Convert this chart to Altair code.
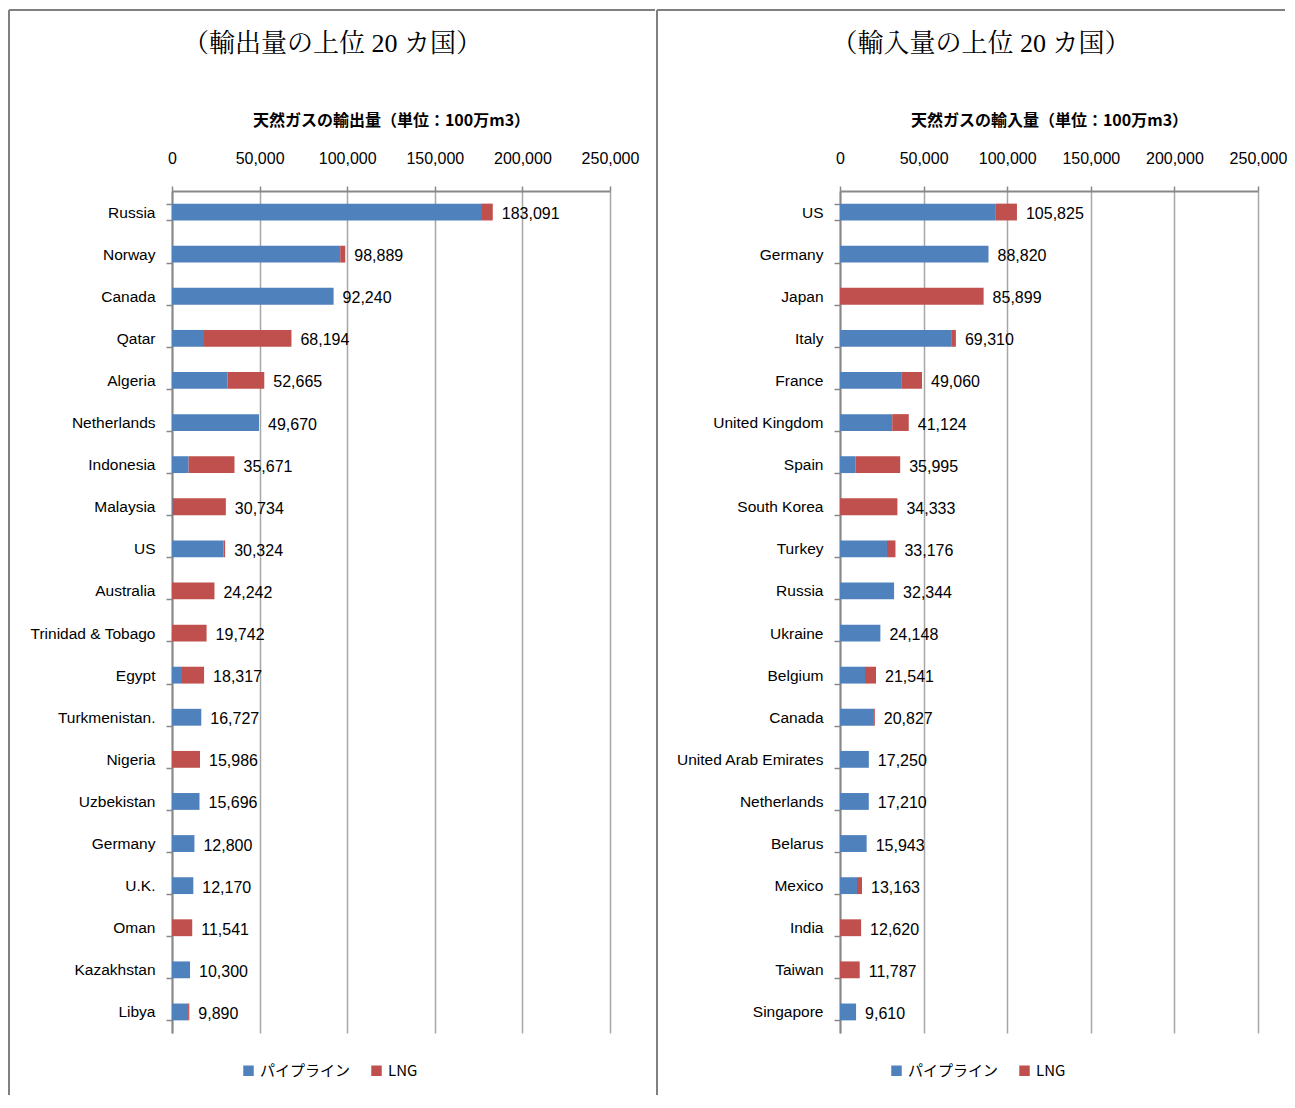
import altair as alt
import pandas as pd

# ---------------- data ----------------
exp_countries = ["Russia", "Norway", "Canada", "Qatar", "Algeria", "Netherlands", "Indonesia",
                 "Malaysia", "US", "Australia", "Trinidad & Tobago", "Egypt", "Turkmenistan.",
                 "Nigeria", "Uzbekistan", "Germany", "U.K.", "Oman", "Kazakhstan", "Libya"]
exp_total = [183091, 98889, 92240, 68194, 52665, 49670, 35671, 30734, 30324, 24242,
             19742, 18317, 16727, 15986, 15696, 12800, 12170, 11541, 10300, 9890]
exp_pipeline = [176400, 96000, 92240, 18250, 31700, 49670, 9470, 400, 29430, 0,
                0, 5700, 16727, 0, 15696, 12800, 12170, 0, 10300, 9200]
exp_lng = [6691, 2889, 0, 49944, 20965, 0, 26201, 30334, 894, 24242,
           19742, 12617, 0, 15986, 0, 0, 0, 11541, 0, 690]

imp_countries = ["US", "Germany", "Japan", "Italy", "France", "United Kingdom", "Spain",
                 "South Korea", "Turkey", "Russia", "Ukraine", "Belgium", "Canada",
                 "United Arab Emirates", "Netherlands", "Belarus", "Mexico", "India",
                 "Taiwan", "Singapore"]
imp_total = [105825, 88820, 85899, 69310, 49060, 41124, 35995, 34333, 33176, 32344,
             24148, 21541, 20827, 17250, 17210, 15943, 13163, 12620, 11787, 9610]
imp_pipeline = [93200, 88820, 0, 66500, 36600, 31250, 9380, 0, 28090, 32344,
                24148, 14940, 20300, 17250, 17210, 15943, 10160, 0, 0, 9610]
imp_lng = [12625, 0, 85899, 2810, 12460, 9874, 26615, 34333, 5086, 0,
           0, 6601, 527, 0, 0, 0, 3003, 12620, 11787, 0]

types = ["パイプライン", "LNG"]
type_colors = ["#4F81BD", "#C0504D"]
x_ticks = [0, 50000, 100000, 150000, 200000, 250000]

LATIN = "Liberation Sans"
CJK = "Noto Sans CJK JP"
SERIF = "Liberation Serif, Noto Serif CJK JP, Noto Sans CJK JP"
BORDER = "#808080"
AXIS_C = "#888888"
GRID_C = "#A6A6A6"
PLOT_H = 842


def panel(countries, total, pipe, lng, panel_title, axis_title, width,
          title_x, left_border, top_right, legend_x):
    rows = []
    for c, p, l in zip(countries, pipe, lng):
        if p > 0:
            rows.append({"country": c, "type": types[0], "value": p, "ord": 0})
        if l > 0:
            rows.append({"country": c, "type": types[1], "value": l, "ord": 1})
    df = pd.DataFrame(rows)
    tot = pd.DataFrame({"country": countries, "total": total})

    xaxis = alt.Axis(orient="top", values=x_ticks, format=",d", title=axis_title,
                     labelFont=LATIN, labelFontSize=16, labelColor="#000", labelPadding=20,
                     labelFlush=False, labelOverlap=False, labelBound=False,
                     tickSize=5, tickColor=AXIS_C, tickWidth=1.5,
                     domainColor=AXIS_C, domainWidth=2,
                     grid=True, gridColor=GRID_C, gridWidth=1.5,
                     titleFont=CJK, titleFontSize=16, titleFontWeight="bold",
                     titleColor="#000", titlePadding=22)
    xscale = alt.Scale(domain=[0, 250000], nice=False)
    yaxis = alt.Axis(title=None, labelFont=LATIN, labelFontSize=15.5, labelColor="#000",
                     labelPadding=11, tickSize=6, tickBand="extent", tickColor=AXIS_C,
                     tickWidth=1.5, domainColor=AXIS_C, domainWidth=2, grid=False,
                     labelLimit=300)
    yscale = alt.Scale(paddingInner=0.6, paddingOuter=0.3)

    bars = alt.Chart(df).mark_bar().encode(
        x=alt.X("value:Q", stack="zero", scale=xscale, axis=xaxis),
        y=alt.Y("country:N", sort=countries, scale=yscale, axis=yaxis),
        color=alt.Color("type:N", scale=alt.Scale(domain=types, range=type_colors),
                        legend=alt.Legend(orient="none", legendX=legend_x, legendY=872,
                                          direction="horizontal", title=None,
                                          symbolType="square", symbolSize=110,
                                          symbolStrokeWidth=0, symbolOpacity=1,
                                          labelFont=CJK,
                                          labelFontSize=15, labelColor="#000",
                                          labelOffset=4, columnPadding=18)),
        order=alt.Order("ord:Q"),
    )
    labels = alt.Chart(tot).mark_text(align="left", baseline="middle", dx=9, dy=2,
                                      font=LATIN, fontSize=16, color="#000").encode(
        x=alt.X("total:Q", scale=xscale, axis=xaxis),
        y=alt.Y("country:N", sort=countries, scale=yscale, axis=yaxis),
        text=alt.Text("total:Q", format=",d"),
    )
    head = alt.Chart(alt.Data(values=[{"t": panel_title}])).mark_text(
        font=SERIF, fontSize=26, color="#000", align="center", baseline="middle"
    ).encode(x=alt.value(title_x), y=alt.value(-147), text="t:N")

    one = alt.Data(values=[{"k": 1}])
    vline = alt.Chart(one).mark_rule(color=BORDER, strokeWidth=2).encode(
        x=alt.value(left_border), y=alt.value(-181), y2=alt.value(904))
    hline = alt.Chart(one).mark_rule(color=BORDER, strokeWidth=2).encode(
        x=alt.value(left_border), x2=alt.value(top_right), y=alt.value(-181))

    return alt.layer(bars, labels, head, vline, hline).properties(width=width, height=PLOT_H)


left = panel(exp_countries, exp_total, exp_pipeline, exp_lng,
             "（輸出量の上位 20 カ国）", "天然ガスの輸出量（単位：100万m3）",
             438, 160.5, -163, 483, 69)
right = panel(imp_countries, imp_total, imp_pipeline, imp_lng,
              "（輸入量の上位 20 カ国）", "天然ガスの輸入量（単位：100万m3）",
              418, 141, -183, 445, 49)

chart = alt.hconcat(left, right, spacing=0).resolve_scale(
    x="independent", y="independent"
).resolve_legend(color="independent").properties(
    padding={"left": 0, "top": 1, "right": 0, "bottom": 0}
).configure_view(stroke=None)

chart.save("out.html", embed_options={"renderer": "svg", "actions": False})
